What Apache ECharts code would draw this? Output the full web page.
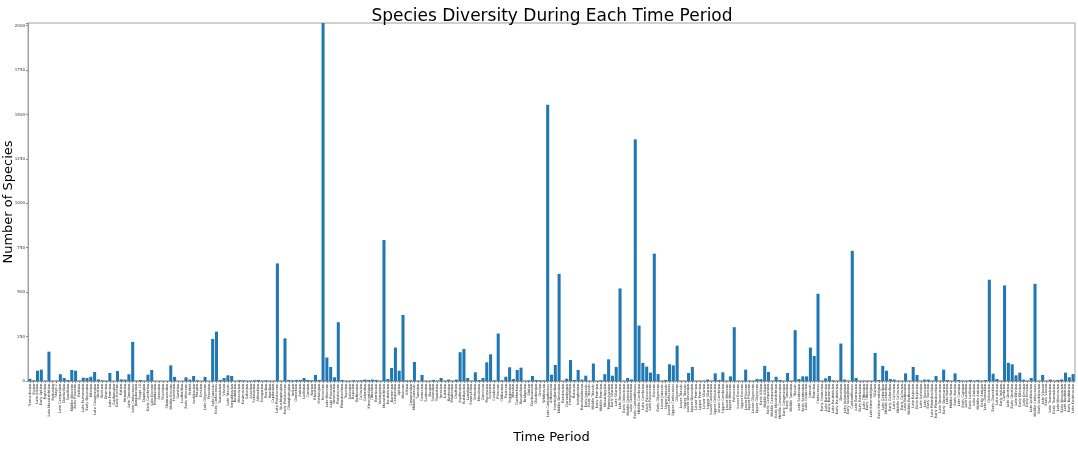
<!DOCTYPE html>
<html>
<head>
<meta charset="utf-8">
<script src="https://cdn.jsdelivr.net/npm/echarts@6/dist/echarts.min.js"></script>
<style>
  html, body { margin: 0; padding: 0; background: #fff; }
  #main { width: 1078px; height: 450px; }
</style>
</head>
<body>
<div id="main"></div>
<script>
const periods = [
  'Tremadocian', 'Floian', 'Late Albian', 'Early Aptian', 'Rupelian', 'Late Maastrichtian', 'Fortunian', 'Stage 2', 'Late Campanian', 'Darriwilian',
  'Sandbian', 'Middle Miocene', 'Early Pliocene', 'Paibian', 'Late Famennian', 'Early Devonian', 'Eifelian', 'Late Cenomanian', 'Givetian', 'Wuliuan',
  'Drumian', 'Late Permian', 'Guzhangian', 'Early Eocene', 'Katian', 'Hirnantian', 'Late Turonian', 'Late Cretaceous', 'Jiangshanian', 'Stage 10',
  'Dapingian', 'Early Cambrian', 'Late Eocene', 'Rhuddanian', 'Aeronian', 'Telychian', 'Sheinwoodian', 'Middle Eocene', 'Homerian', 'Gorstian',
  'Ludfordian', 'Early Miocene', 'Pridoli', 'Lochkovian', 'Pragian', 'Emsian', 'Late Oligocene', 'Frasnian', 'Late Jurassic', 'Early Cretaceous',
  'Tournaisian', 'Visean', 'Late Triassic', 'Serpukhovian', 'Bashkirian', 'Moscovian', 'Kasimovian', 'Gzhelian', 'Asselian', 'Sakmarian',
  'Artinskian', 'Kungurian', 'Roadian', 'Wordian', 'Capitanian', 'Late Pleistocene', 'Wuchiapingian', 'Early Pleistocene', 'Changhsingian', 'Induan',
  'Olenekian', 'Anisian', 'Ladinian', 'Carnian', 'Norian', 'Rhaetian', 'Hettangian', 'Holocene', 'Late Miocene', 'Late Pliocene',
  'Sinemurian', 'Pleistocene', 'Pliensbachian', 'Toarcian', 'Aalenian', 'Bajocian', 'Bathonian', 'Callovian', 'Oxfordian', 'Kimmeridgian',
  'Tithonian', 'Berriasian', 'Valanginian', 'Maastrichtian', 'Hauterivian', 'Barremian', 'Campanian', 'Aptian', 'Miocene', 'Albian',
  'Cenomanian', 'Middle Jurassic', 'Turonian', 'Coniacian', 'Santonian', 'Danian', 'Selandian', 'Thanetian', 'Ypresian', 'Lutetian',
  'Bartonian', 'Priabonian', 'Chattian', 'Aquitanian', 'Burdigalian', 'Langhian', 'Serravallian', 'Tortonian', 'Messinian', 'Zanclean',
  'Piacenzian', 'Gelasian', 'Calabrian', 'Pliocene', 'Chibanian', 'Puercan', 'Torrejonian', 'Tiffanian', 'Clarkforkian', 'Wasatchian',
  'Bridgerian', 'Uintan', 'Duchesnean', 'Chadronian', 'Orellan', 'Whitneyan', 'Late Carboniferous', 'Arikareean', 'Hemingfordian', 'Middle Devonian',
  'Barstovian', 'Clarendonian', 'Hemphillian', 'Blancan', 'Irvingtonian', 'Rancholabrean', 'Early Jurassic', 'Early Triassic', 'Middle Triassic', 'Early Permian',
  'Middle Permian', 'Mississippian', 'Pennsylvanian', 'Early Silurian', 'Late Silurian', 'Late Devonian', 'Early Ordovician', 'Middle Ordovician', 'Late Ordovician', 'Early Carboniferous',
  'Middle Cambrian', 'Late Cambrian', 'Early Paleocene', 'Late Paleocene', 'Eocene', 'Early Oligocene', 'Lower Jurassic', 'Upper Jurassic', 'Lower Cretaceous', 'Upper Cretaceous',
  'Oligocene', 'Lower Triassic', 'Upper Triassic', 'Lower Devonian', 'Upper Devonian', 'Lower Permian', 'Upper Permian', 'Lower Silurian', 'Upper Silurian', 'Lower Ordovician',
  'Upper Ordovician', 'Lower Cambrian', 'Upper Cambrian', 'Lower Miocene', 'Upper Miocene', 'Paleocene', 'Lower Eocene', 'Upper Eocene', 'Lower Pliocene', 'Upper Pliocene',
  'Lower Oligocene', 'Upper Oligocene', 'Early Albian', 'Middle Albian', 'Early Campanian', 'Middle Campanian', 'Early Maastrichtian', 'Middle Cenomanian', 'Early Cenomanian', 'Early Turonian',
  'Middle Turonian', 'Triassic', 'Late Santonian', 'Early Santonian', 'Late Coniacian', 'Jurassic', 'Permian', 'Cretaceous', 'Early Coniacian', 'Late Barremian',
  'Early Barremian', 'Late Hauterivian', 'Early Hauterivian', 'Devonian', 'Late Valanginian', 'Early Valanginian', 'Carboniferous', 'Late Berriasian', 'Early Berriasian', 'Late Tithonian',
  'Early Tithonian', 'Late Kimmeridgian', 'Silurian', 'Early Kimmeridgian', 'Late Oxfordian', 'Middle Oxfordian', 'Early Oxfordian', 'Late Callovian', 'Middle Callovian', 'Early Callovian',
  'Late Bathonian', 'Middle Bathonian', 'Late Bajocian', 'Early Bajocian', 'Late Aalenian', 'Late Toarcian', 'Early Toarcian', 'Late Pliensbachian', 'Early Pliensbachian', 'Late Sinemurian',
  'Early Sinemurian', 'Late Norian', 'Middle Norian', 'Early Norian', 'Late Carnian', 'Early Carnian', 'Late Ladinian', 'Early Ladinian', 'Late Anisian', 'Middle Anisian',
  'Early Anisian', 'Late Olenekian', 'Ordovician', 'Early Olenekian', 'Late Induan', 'Early Induan', 'Cambrian', 'Late Givetian', 'Early Givetian', 'Late Eifelian',
  'Early Eifelian', 'Late Emsian', 'Early Emsian', 'Late Lochkovian', 'Middle Cretaceous', 'Early Lochkovian', 'Late Visean', 'Early Visean', 'Late Tournaisian', 'Early Tournaisian',
  'Late Moscovian', 'Early Moscovian', 'Late Bashkirian', 'Early Bashkirian', 'Late Kasimovian'
];

const speciesCount = [
  12, 4, 58, 64, 2, 165, 2, 2, 38, 17,
  6, 62, 58, 2, 19, 17, 24, 51, 9, 4,
  2, 45, 1, 56, 9, 8, 38, 220, 2, 6,
  2, 36, 62, 1, 1, 1, 1, 88, 23, 1,
  1, 21, 8, 28, 4, 1, 23, 1, 237, 278,
  6, 17, 32, 28, 1, 5, 4, 2, 2, 4,
  6, 2, 4, 2, 2, 662, 2, 240, 6, 4,
  6, 6, 17, 6, 4, 34, 6, 2015, 132, 79,
  21, 331, 6, 2, 2, 4, 2, 4, 8, 6,
  8, 6, 2, 793, 11, 73, 188, 58, 372, 4,
  4, 107, 2, 34, 2, 2, 6, 2, 17, 2,
  8, 2, 8, 162, 180, 17, 2, 49, 6, 17,
  105, 150, 4, 267, 4, 24, 77, 11, 62, 75,
  2, 4, 28, 6, 4, 4, 1555, 36, 90, 603,
  2, 13, 118, 6, 62, 8, 30, 2, 98, 2,
  4, 38, 122, 30, 79, 521, 2, 17, 9, 1360,
  312, 102, 81, 47, 717, 39, 2, 6, 94, 88,
  199, 2, 2, 45, 79, 2, 2, 2, 8, 2,
  43, 6, 49, 2, 26, 303, 2, 2, 64, 2,
  2, 11, 10, 85, 51, 2, 24, 6, 2, 45,
  2, 286, 11, 26, 26, 188, 141, 491, 2, 15,
  28, 4, 2, 211, 8, 2, 733, 17, 2, 2,
  2, 2, 158, 6, 85, 58, 11, 8, 2, 2,
  43, 2, 79, 34, 2, 8, 8, 2, 28, 2,
  64, 6, 2, 43, 6, 2, 2, 6, 2, 6,
  2, 6, 570, 41, 11, 2, 538, 102, 94, 32,
  47, 8, 2, 17, 547, 2, 34, 2, 8, 2,
  6, 9, 47, 21, 39
];

const yTicks = [0, 250, 500, 750, 1000, 1250, 1500, 1750, 2000];

const FONT = 'DejaVu Sans';

const chart = echarts.init(document.getElementById('main'), null, { renderer: 'canvas' });

chart.setOption({
  animation: false,
  backgroundColor: '#fff',
  title: {
    text: 'Species Diversity During Each Time Period',
    left: 547,
    top: 3,
    textAlign: 'center',
    textStyle: { fontFamily: FONT, fontSize: 17, fontWeight: 'normal', color: '#000' }
  },
  grid: {
    left: 28,
    right: 3,
    top: 23,
    bottom: 69,
    containLabel: false,
    outerBoundsMode: 'none',
    show: true,
    borderColor: '#a0a0a0',
    borderWidth: 1
  },
  xAxis: {
    type: 'category',
    data: periods,
    name: 'Time Period',
    nameLocation: 'middle',
    nameGap: 50,
    nameMoveOverlap: false,
    nameTextStyle: { fontFamily: FONT, fontSize: 13, color: '#000' },
    axisLine: { lineStyle: { color: '#a0a0a0', width: 1 } },
    axisTick: { show: true, alignWithLabel: true, interval: 0, length: 2, lineStyle: { color: '#888' } },
    axisLabel: {
      interval: 0,
      rotate: 90,
      margin: 3,
      fontFamily: FONT,
      fontSize: 3.5,
      color: '#333'
    }
  },
  yAxis: {
    type: 'value',
    min: 0,
    max: 2015,
    interval: 250,
    name: 'Number of Species',
    nameLocation: 'middle',
    nameRotate: 90,
    nameGap: 13,
    nameMoveOverlap: false,
    nameTextStyle: { fontFamily: FONT, fontSize: 13, color: '#000' },
    splitLine: { show: false },
    axisLine: { show: true, lineStyle: { color: '#a0a0a0', width: 1 } },
    axisTick: { show: true, length: 2, lineStyle: { color: '#888' } },
    axisLabel: {
      margin: 3,
      fontFamily: FONT,
      fontSize: 4,
      color: '#333',
      formatter: (v) => (yTicks.indexOf(v) >= 0 ? String(v) : '')
    }
  },
  series: [{
    type: 'bar',
    data: speciesCount,
    barCategoryGap: '20%',
    itemStyle: { color: '#1f77b4' },
    silent: true
  }]
});
</script>
</body>
</html>
